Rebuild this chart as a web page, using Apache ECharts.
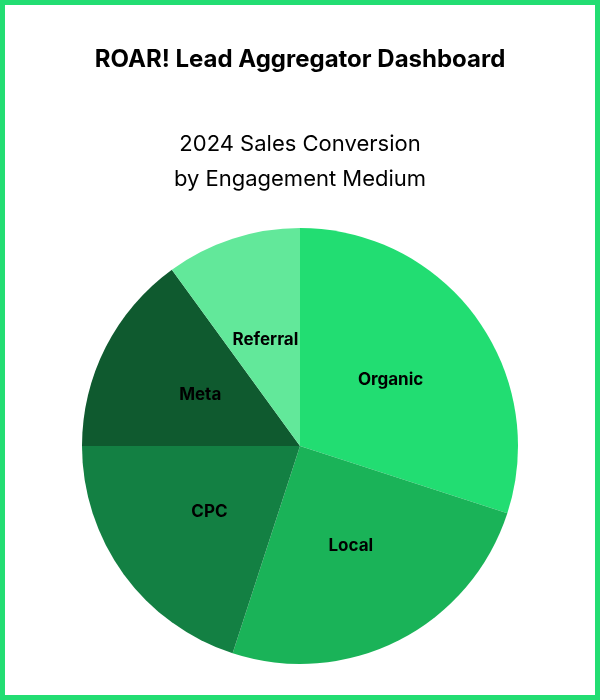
<!DOCTYPE html>
<html>
<head>
<meta charset="utf-8">
<script src="https://cdn.jsdelivr.net/npm/echarts@6/dist/echarts.min.js"></script>
<style>
  html, body { margin: 0; padding: 0; background: #fff; }
  #main { width: 600px; height: 700px; box-sizing: border-box; border: 5px solid #22dd72; }
</style>
</head>
<body>
<div id="main"></div>
<script>
// 数据
var categories = ['Organic', 'Local', 'CPC', 'Meta', 'Referral'];
var values = [30, 25, 20, 15, 10];
var colors = ['#22dd72', '#1ab358', '#138043', '#0f5a2f', '#62e89a'];

var chart = echarts.init(document.getElementById('main'));
chart.setOption({
	backgroundColor: '#fff',
	animation: false,
	title: [
		{
			text: 'ROAR! Lead Aggregator Dashboard',
			left: 'center',
			top: 38,
			textStyle: { fontFamily: 'Inter', fontWeight: 'bold', fontSize: 24, color: '#000' }
		},
		{
			text: '2024 Sales Conversion\nby Engagement Medium',
			left: 'center',
			top: 117,
			textStyle: { fontFamily: 'Inter', fontWeight: 'normal', fontSize: 22, color: '#000', lineHeight: 35 }
		}
	],
	series: [
		{
			type: 'pie',
			center: [295, 441],
			radius: 218,
			startAngle: 90,
			clockwise: true,
			data: categories.map(function (c, i) {
				return { name: c, value: values[i], itemStyle: { color: colors[i] } };
			}),
			label: {
				position: 'inside',
				formatter: '{b}',
				fontFamily: 'Inter',
				fontWeight: 'bold',
				fontSize: 17,
				color: '#000'
			},
			labelLine: { show: false }
		}
	]
});
</script>
</body>
</html>
